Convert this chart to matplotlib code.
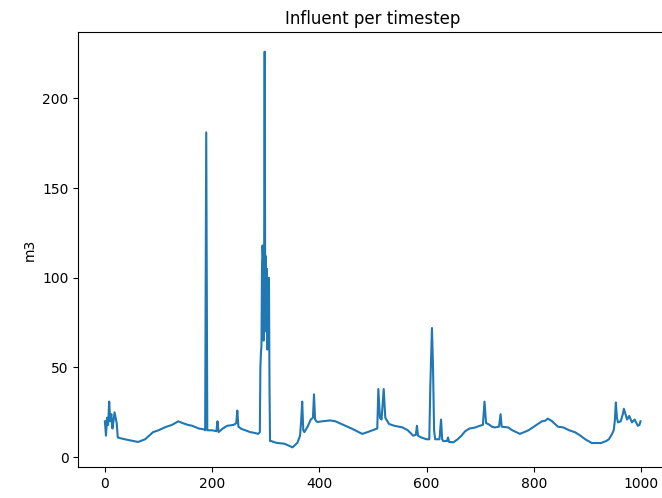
import matplotlib.pyplot as plt

# timestep positions and influent volume (m3)
timestep = [0, 2, 4, 6, 8, 10, 12, 14, 16, 18, 20, 22, 24, 30, 45, 62, 75, 90,
            100, 107, 115, 125, 137, 145, 155, 163, 175, 185, 187, 188, 189, 190,
            191, 200, 208, 210, 212, 220, 228, 240, 245, 247, 249, 255, 262, 271,
            280, 286, 289, 290, 291, 292, 293, 294, 295, 296, 297, 298, 299, 300,
            301, 302, 303, 304, 305, 306, 307, 308, 310, 320, 335, 350, 359, 364,
            366, 368, 370, 372, 378, 384, 388, 390, 392, 396, 405, 420, 430, 445,
            460, 480, 490, 505, 508, 510, 513, 516, 520, 523, 530, 540, 555, 565,
            575, 580, 582, 584, 590, 600, 605, 607, 610, 612, 614, 616, 624, 627,
            629, 631, 638, 640, 642, 650, 658, 665, 672, 680, 690, 699, 705, 708,
            711, 715, 722, 727, 735, 738, 740, 752, 760, 774, 790, 805, 815, 821,
            826, 833, 845, 855, 866, 877, 887, 896, 908, 925, 935, 940, 946, 949,
            951, 953, 955, 957, 962, 966, 968, 971, 974, 978, 983, 988, 994, 997,
            999]
influent = [20, 12, 22, 18, 31, 20, 24, 16, 20, 25, 22, 19, 11, 10.5, 9.5, 8.5, 10, 14,
            15, 16, 17, 18, 20, 19, 18, 17.5, 16, 15.5, 15, 100, 181, 100,
            15, 15, 14.5, 20, 14, 16, 17.5, 18, 19, 26, 17, 15.7, 15, 14,
            13.5, 13, 14, 50, 58, 62, 105, 118, 112, 65, 108, 226, 95, 112,
            70, 105, 60, 95, 65, 100, 40, 9, 9, 8, 7.5, 5.5, 8, 12,
            20, 31, 15, 14, 17, 21, 22, 35, 21, 19.6, 20, 20.5, 20, 18,
            16, 13, 14, 15.7, 16, 38, 22, 21, 38, 22, 18.5, 17.5, 16.6, 15,
            12, 12.5, 17.5, 12, 11, 10, 10, 40, 72, 50, 15, 10, 10, 21,
            10, 9, 9, 11, 8.5, 8.3, 10, 12, 14.5, 16, 16.5, 17.5, 18, 31,
            19, 18.5, 17, 16.6, 17, 24, 17, 16.6, 15, 13, 15, 18, 20, 20.3,
            21.5, 20.3, 17, 16.6, 15, 13.9, 12, 10, 7.9, 7.9, 9, 10, 13, 15,
            20, 30.5, 22, 19.4, 20, 24, 27, 24, 21, 23, 19.4, 21, 17.5, 18,
            20]

fig = plt.figure(figsize=(6.62, 4.98), dpi=100)
ax = fig.add_axes([0.118, 0.062, 0.89, 0.874])
ax.plot(timestep, influent)
ax.set_title("Influent per timestep")
ax.set_ylabel("m3")

fig.savefig("out.png", dpi=100)
